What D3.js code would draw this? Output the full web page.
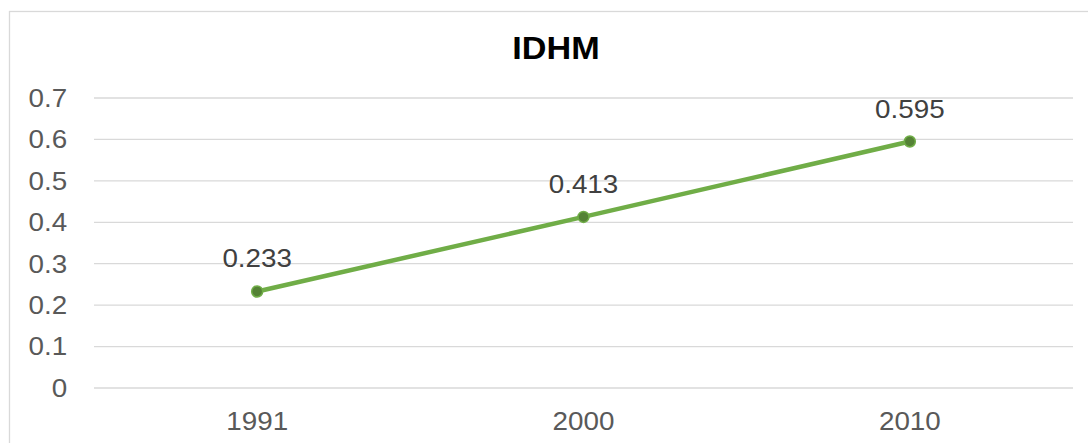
<!DOCTYPE html>
<html><head><meta charset="utf-8">
<script src="https://cdn.jsdelivr.net/npm/d3@7"></script>
<style>body{margin:0;background:#fff}svg{display:block;font-family:"Liberation Sans",Arial,sans-serif}</style>
</head><body>
<svg id="c" width="1088" height="443"></svg>
<script>
const categories = ["1991", "2000", "2010"];
const values = [0.233, 0.413, 0.595];
const yTicks = [0, 0.1, 0.2, 0.3, 0.4, 0.5, 0.6, 0.7];
const title = "IDHM";

const svg = d3.select("#c");
const W = 1088, H = 443;
const m = {left: 94, right: 15};
const SX = 1.07;
const FF = '"Liberation Sans",Arial,sans-serif';

svg.append("rect").attr("x", 9.5).attr("y", 11.5).attr("width", 1200).attr("height", 600)
  .attr("fill", "none").attr("stroke", "#d9d9d9").attr("stroke-width", 1.3);

const x = d3.scaleBand().domain(categories).range([m.left, W - m.right]);
const y = d3.scaleLinear().domain([0, 0.7]).range([388, 98]);

// gridlines
svg.append("g").selectAll("line").data(yTicks).join("line")
  .attr("x1", m.left).attr("x2", W - m.right)
  .attr("y1", d => y(d)).attr("y2", d => y(d))
  .attr("stroke", "#d9d9d9").attr("stroke-width", 1.3);

// y axis labels
const yAxis = svg.append("g").attr("transform", `translate(${m.left},0)`)
  .call(d3.axisLeft(y).tickValues(yTicks).tickFormat(d => d === 0 ? "0" : d3.format(".1f")(d)).tickSize(0).tickPadding(25));
yAxis.select(".domain").remove();
yAxis.selectAll("text").attr("font-size", 26).attr("fill", "#595959")
  .attr("font-family", FF).attr("transform", `scale(${SX},1)`);

// x axis labels
const xAxis = svg.append("g").attr("transform", `translate(0,388)`)
  .call(d3.axisBottom(x).tickSize(0).tickPadding(0));
xAxis.select(".domain").remove();
xAxis.selectAll("text").attr("font-size", 26).attr("fill", "#595959").attr("dy", null).attr("y", 42)
  .attr("font-family", FF).attr("transform", `scale(${SX},1)`);

// title
svg.append("text").attr("transform", `translate(556,59) scale(${SX},1)`).attr("text-anchor", "middle")
  .attr("font-size", 32).attr("font-weight", "bold").attr("fill", "#000").text(title);

const pts = categories.map((c, i) => ({c, v: values[i]}));
const cx = d => x(d.c) + x.bandwidth() / 2;

svg.append("path").datum(pts)
  .attr("d", d3.line().x(cx).y(d => y(d.v)))
  .attr("fill", "none").attr("stroke", "#70ad47").attr("stroke-width", 4.5).attr("stroke-linecap", "round");

svg.append("g").selectAll("circle").data(pts).join("circle")
  .attr("cx", cx).attr("cy", d => y(d.v)).attr("r", 5.5)
  .attr("fill", "#548235").attr("stroke", "#70ad47").attr("stroke-width", 1.5);

svg.append("g").selectAll("text").data(pts).join("text")
  .attr("transform", d => `translate(${cx(d)},${y(d.v) - 24}) scale(${SX},1)`).attr("text-anchor", "middle")
  .attr("font-size", 26).attr("fill", "#404040").attr("font-family", FF).text(d => d3.format(".3f")(d.v));
</script>
</body></html>
